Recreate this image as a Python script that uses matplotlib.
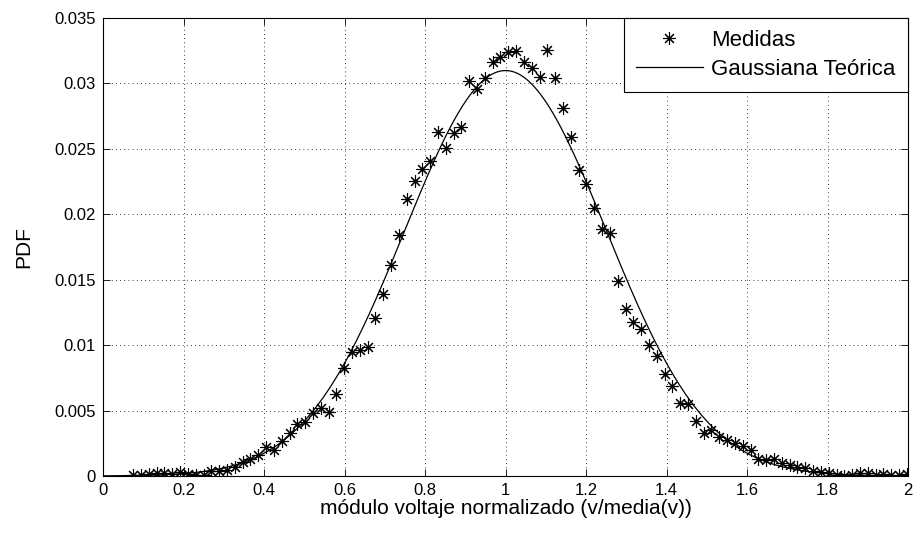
import numpy as np
import matplotlib
matplotlib.use("Agg")
import matplotlib.pyplot as plt

plt.rcParams['font.family'] = ['Liberation Sans', 'DejaVu Sans']

# centros de los bins (100 bins entre ~0.075 y ~1.997)
x_first = 0.075
x_last = 1.997
n_bins = 100

pdf_medida = [
    0.0001, 0.0001, 0.00015, 0.0002, 0.0002, 0.00015, 0.0003, 0.00015, 0.0001, 0.0001,
    0.00035, 0.0004, 0.00045, 0.00066, 0.0011, 0.00127, 0.00158, 0.00224, 0.0020, 0.0027,
    0.0033, 0.0040, 0.0041, 0.00484, 0.00517, 0.00489, 0.0063, 0.00823, 0.00945, 0.00963,
    0.00988, 0.01205, 0.01391, 0.01612, 0.01842, 0.02117, 0.02257, 0.02343, 0.0241, 0.0263,
    0.0251, 0.0262, 0.0267, 0.0302, 0.0296, 0.0304, 0.0316, 0.0320, 0.0324, 0.0325,
    0.0316, 0.0312, 0.0305, 0.03255, 0.0304, 0.0281, 0.02588, 0.02338, 0.02231, 0.0205,
    0.01885, 0.01859, 0.0149, 0.01276, 0.01175, 0.01123, 0.01003, 0.00918, 0.00777, 0.00686,
    0.0056, 0.0055, 0.00422, 0.00326, 0.00352, 0.00301, 0.00275, 0.00255, 0.00229, 0.00199,
    0.00127, 0.00122, 0.00127, 0.00097, 0.00084, 0.00066, 0.00059, 0.00041, 0.00033, 0.0002,
    0.0001, 0.00003, 0.0001, 0.0002, 0.00025, 0.0001, 0.00015, 0.0001, 0.0001, 0.00015,
]

# parametros de la gaussiana teorica
media = 1.0
sigma = 0.25
ancho_bin = (x_last - x_first) / (n_bins - 1)

xticks = [0, 0.2, 0.4, 0.6, 0.8, 1, 1.2, 1.4, 1.6, 1.8, 2]
xticklabels = ['0', '0.2', '0.4', '0.6', '0.8', '1', '1.2', '1.4', '1.6', '1.8', '2']
yticks = [0, 0.005, 0.01, 0.015, 0.02, 0.025, 0.03, 0.035]
yticklabels = ['0', '0.005', '0.01', '0.015', '0.02', '0.025', '0.03', '0.035']

x_med = np.linspace(x_first, x_last, n_bins)
x_teo = np.linspace(0, 2, 400)
pdf_teo = ancho_bin / (sigma * np.sqrt(2 * np.pi)) * np.exp(-(x_teo - media) ** 2 / (2 * sigma ** 2))

fig = plt.figure(figsize=(9.15, 5.36), dpi=100)
ax = fig.add_axes([0.1126, 0.112, 0.8798, 0.8545])

# asterisco estilo MATLAB (8 brazos)
ax.plot(x_med, pdf_medida, linestyle='none', marker=(8, 2, 0), color='black',
        markersize=9, markeredgewidth=0.8, label='Medidas')
ax.plot(x_teo, pdf_teo, '-', color='black', linewidth=0.9, label='Gaussiana Teórica')

ax.set_xlim(0, 2)
ax.set_ylim(0, 0.035)
ax.set_xticks(xticks)
ax.set_xticklabels(xticklabels)
ax.set_yticks(yticks)
ax.set_yticklabels(yticklabels)
ax.tick_params(direction='in', top=True, right=True, labelsize=12, length=5, width=0.6, pad=5)
ax.grid(True, linestyle=(0, (1, 4)), color='black', linewidth=0.6)
for s in ax.spines.values():
    s.set_linewidth(0.8)

ax.set_xlabel('módulo voltaje normalizado (v/media(v))', fontsize=15, labelpad=1)
ax.set_ylabel('PDF', fontsize=15, labelpad=15)

leg = ax.legend(loc='upper right', fontsize=16, fancybox=False, framealpha=1,
                edgecolor='black', borderaxespad=0, handlelength=3.0,
                borderpad=0.55, labelspacing=0.35, handletextpad=0.4)
leg.get_frame().set_linewidth(0.8)

fig.savefig('out.png', dpi=100)
